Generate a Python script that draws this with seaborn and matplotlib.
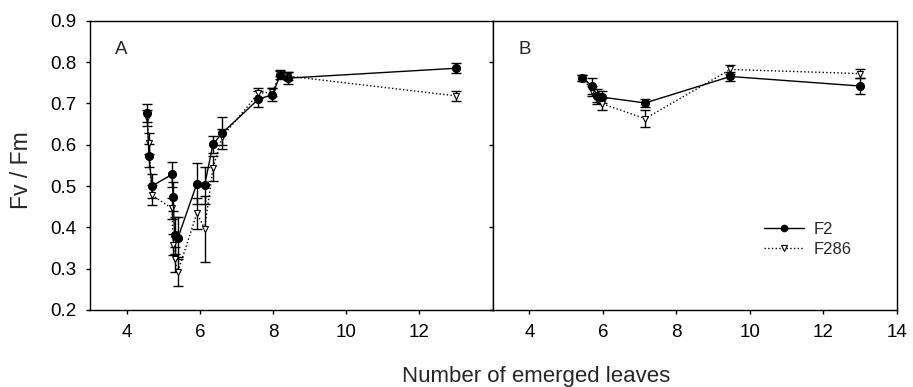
import numpy as np
import pandas as pd
import matplotlib
matplotlib.use("Agg")
import matplotlib.pyplot as plt
from matplotlib.lines import Line2D
import seaborn as sns

# Panel A data
a_x = [4.56, 4.61, 4.69, 5.24, 5.27, 5.31, 5.40, 5.92, 6.13, 6.36, 6.61, 7.60, 7.98, 8.20, 8.40, 13.01]
a_f2 = [0.676, 0.573, 0.500, 0.528, 0.474, 0.381, 0.374, 0.506, 0.502, 0.601, 0.628, 0.710, 0.721, 0.769, 0.761, 0.785]
a_f2_err = [0.022, 0.028, 0.03, 0.03, 0.035, 0.045, 0.05, 0.05, 0.045, 0.02, 0.038, 0.02, 0.015, 0.01, 0.014, 0.012]
a_f286 = [0.665, 0.603, 0.478, 0.446, 0.358, 0.323, 0.293, 0.434, 0.397, 0.543, 0.619, 0.724, 0.728, 0.773, 0.766, 0.718]
a_f286_err = [0.02, 0.025, 0.025, 0.025, 0.025, 0.03, 0.035, 0.037, 0.08, 0.03, 0.02, 0.012, 0.01, 0.008, 0.01, 0.012]

# Panel B data
b_x = [5.44, 5.71, 5.84, 5.98, 7.15, 9.47, 13.0]
b_f2 = [0.761, 0.742, 0.719, 0.715, 0.701, 0.765, 0.742]
b_f2_err = [0.008, 0.02, 0.015, 0.015, 0.01, 0.01, 0.02]
b_f286 = [0.761, 0.731, 0.711, 0.699, 0.663, 0.782, 0.772]
b_f286_err = [0.008, 0.012, 0.012, 0.015, 0.02, 0.01, 0.01]

series_names = ["F2", "F286"]
panel_labels = ["A", "B"]
ytick_vals_a = [0.2, 0.3, 0.4, 0.5, 0.6, 0.7, 0.8, 0.9]
ytick_vals_b = [0.2, 0.4, 0.6, 0.8]
xtick_vals_a = [4, 6, 8, 10, 12]
xtick_vals_b = [4, 6, 8, 10, 12, 14]

sns.set_style("ticks")
plt.rcParams["font.family"] = ["Liberation Sans", "DejaVu Sans"]

fig = plt.figure(figsize=(9.13, 3.87), dpi=100)
axA = fig.add_axes([90 / 913, 77 / 387, 402.7 / 913, 289.3 / 387])
axB = fig.add_axes([492.7 / 913, 77 / 387, 404 / 913, 289.3 / 387])

styles = {
    "F2": dict(color="black", linestyle="-", linewidth=1.0, marker="o", markersize=5.8,
               markerfacecolor="black", markeredgecolor="black"),
    "F286": dict(color="black", linestyle=":", linewidth=1.0, marker="v", markersize=4.8,
                 markerfacecolor="white", markeredgecolor="black", markeredgewidth=0.8),
}

def draw(ax, x, ys, errs):
    for name in ["F286", "F2"]:
        y = ys[name]
        e = errs[name]
        df = pd.DataFrame({"x": x, "y": y})
        ax.errorbar(x, y, yerr=e, fmt="none", ecolor="black", elinewidth=1.0,
                    capsize=3.3, capthick=1.0, zorder=2)
        sns.lineplot(data=df, x="x", y="y", ax=ax, sort=False, errorbar=None,
                     legend=False, zorder=3, **styles[name])

draw(axA, a_x, {"F2": a_f2, "F286": a_f286}, {"F2": a_f2_err, "F286": a_f286_err})
draw(axB, b_x, {"F2": b_f2, "F286": b_f286}, {"F2": b_f2_err, "F286": b_f286_err})

for ax in (axA, axB):
    ax.set_xlim(3, 14)
    ax.set_ylim(0.2, 0.9)
    ax.set_xlabel("")
    ax.set_ylabel("")
    for s in ax.spines.values():
        s.set_color("black")
        s.set_linewidth(1.0)
    ax.tick_params(direction="out", length=3, width=1.0, colors="black", labelsize=13.5)
    ax.tick_params(axis="x", pad=7)
    ax.tick_params(axis="y", pad=7)

axA.set_xticks(xtick_vals_a)
axA.set_yticks(ytick_vals_a)
axA.set_yticklabels([f"{v:.1f}" for v in ytick_vals_a])

axB.set_xticks(xtick_vals_b)
axB.set_yticks(ytick_vals_b)
axB.set_yticklabels([])

axA.text(3.68, 0.83, panel_labels[0], fontsize=13.5, ha="left", va="center")
axB.text(3.70, 0.83, panel_labels[1], fontsize=13.5, ha="left", va="center")

leg_handles = [
    Line2D([], [], color="black", linestyle="-", linewidth=1.0, marker="o", markersize=4.5,
           markerfacecolor="black", markeredgecolor="black"),
    Line2D([], [], color="black", linestyle=":", linewidth=1.0, marker="v", markersize=4,
           markerfacecolor="white", markeredgecolor="black", markeredgewidth=0.8),
]
axB.legend(leg_handles, series_names, loc="center left", bbox_to_anchor=(0.672, 0.245),
           frameon=False, fontsize=12, handlelength=2.4, handletextpad=0.55,
           labelspacing=0.3, borderaxespad=0, borderpad=0)

fig.text(21 / 913, 1 - 170 / 387, "Fv / Fm", fontsize=16.5, rotation=90,
         ha="center", va="center")
fig.text(536 / 913, 1 - 382 / 387, "Number of emerged leaves", fontsize=16,
         ha="center", va="baseline")

fig.savefig("out.png", dpi=100)
